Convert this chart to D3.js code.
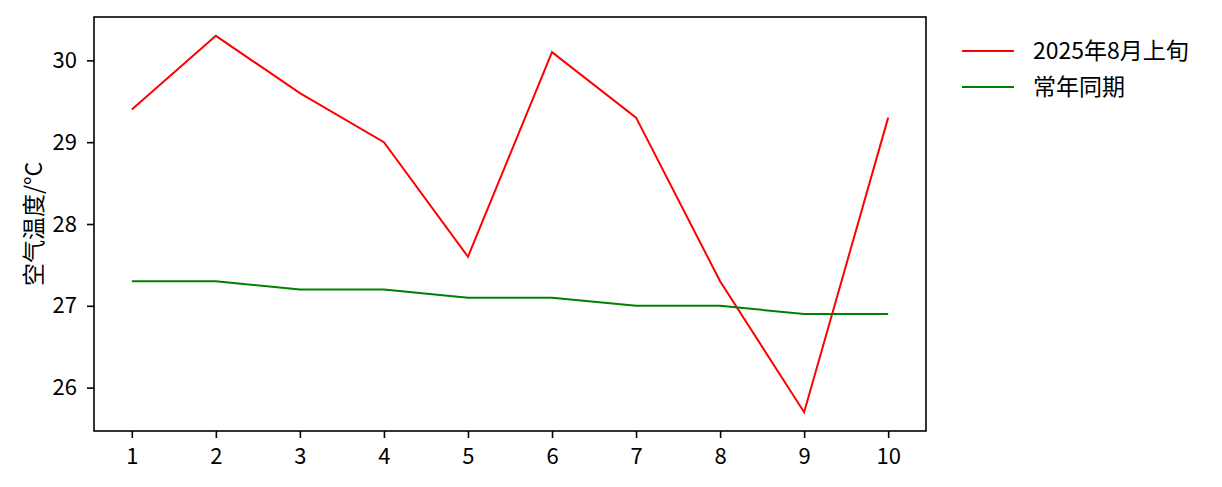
<!DOCTYPE html>
<html><head><meta charset="utf-8">
<script src="https://cdn.jsdelivr.net/npm/d3@7"></script>
<style>body{margin:0;background:#fff;} text{font-family:"Noto Sans CJK SC","DejaVu Sans",sans-serif;}</style>
</head><body>
<svg id="c" width="1222" height="487"></svg>
<script>
const days = [1,2,3,4,5,6,7,8,9,10];
const current = [29.4,30.3,29.6,29.0,27.6,30.1,29.3,27.3,25.7,29.3];
const normal = [27.3,27.3,27.2,27.2,27.1,27.1,27.0,27.0,26.9,26.9];
const seriesNames = ["2025年8月上旬","常年同期"];
const seriesColors = ["#ff0000","#008000"];
const yTicks = [26,27,28,29,30];
const yLabel = "空气温度/°C";

const svg = d3.select("#c");
const L=94,R=926,T=17,B=431;
const x = d3.scaleLinear().domain([0.55,10.45]).range([L,R]);
const y = d3.scaleLinear().domain([25.47,30.53]).range([B,T]);

const fs = 22, fsL = 23;
const xAxis = svg.append("g").attr("transform",`translate(0,${B})`)
  .call(d3.axisBottom(x).tickValues(days).tickFormat(d3.format("d")).tickSize(7).tickPadding(10));
const yAxis = svg.append("g").attr("transform",`translate(${L},0)`)
  .call(d3.axisLeft(y).tickValues(yTicks).tickFormat(d3.format("d")).tickSize(7).tickPadding(10));
[xAxis,yAxis].forEach(a=>{
  a.select(".domain").remove();
  a.selectAll(".tick line").attr("stroke","#000").attr("stroke-width",1.6);
  a.selectAll(".tick text").attr("fill","#000").style("font-size",fs+"px");
});

const line = d3.line().x((d,i)=>x(days[i])).y(d=>y(d));
[current,normal].forEach((s,i)=>{
  svg.append("path").datum(s).attr("d",line).attr("fill","none")
    .attr("stroke",seriesColors[i]).attr("stroke-width",2);
});

svg.append("rect").attr("x",L).attr("y",T).attr("width",R-L).attr("height",B-T)
  .attr("fill","none").attr("stroke","#000").attr("stroke-width",1.6);

svg.append("text").attr("transform",`translate(34,${(T+B)/2}) rotate(-90)`)
  .attr("text-anchor","middle").attr("dy","0.36em").style("font-size",fsL+"px").attr("fill","#000").text(yLabel);

const lg = svg.append("g");
seriesNames.forEach((n,i)=>{
  const yy = 51 + i*36;
  lg.append("line").attr("x1",962).attr("x2",1014).attr("y1",yy).attr("y2",yy)
    .attr("stroke",seriesColors[i]).attr("stroke-width",2);
  lg.append("text").attr("x",1033).attr("y",yy).attr("dy","0.36em")
    .style("font-size",fsL+"px").attr("fill","#000").text(n);
});
</script>
</body></html>
